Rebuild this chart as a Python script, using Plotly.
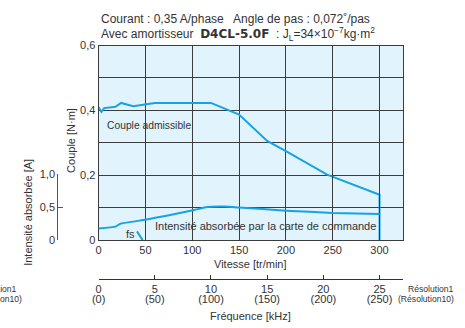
import plotly.graph_objects as go

# ---- data ----
speed_torque = [0, 3, 6, 18, 24, 37, 60, 120, 150, 180, 200, 244, 300, 300]
torque = [0.41, 0.395, 0.407, 0.411, 0.423, 0.413, 0.423, 0.423, 0.387, 0.306, 0.274, 0.202, 0.14, 0.0]

speed_current = [0, 18, 23, 50, 74, 102, 116, 134, 150, 200, 250, 300]
current = [0.174, 0.203, 0.246, 0.309, 0.372, 0.454, 0.50, 0.507, 0.493, 0.445, 0.41, 0.395]

fs_speed = [41, 47]
fs_torque = [0.027, 0.0]

speed_ticks = [0, 50, 100, 150, 200, 250, 300]
current_ticks = [0, 0.5, 1.0]
current_labels = ["0", "0,5", "1,0"]
freq_ticks = [0, 5, 10, 15, 20, 25]
freq_labels = ["0", "5", "10", "15", "20", "25"]
freq_labels_res10 = ["(0)", "(50)", "(100)", "(150)", "(200)", "(250)"]

W, H = 465, 328
FONT = "Liberation Sans, Arial, sans-serif"
TXT = "#333333"
BLUE = "#15a3e6"
GRID = "#3c3c3c"
FS = 11
RPM_PER_KHZ = 12  # 0.072 deg/step: 1 kHz -> 12 tr/min

def px(x):
    return x / W

def py(y):
    return 1 - y / H

fig = go.Figure()
fig.add_trace(go.Scatter(x=speed_torque, y=torque, mode="lines",
                         line=dict(color=BLUE, width=2), xaxis="x", yaxis="y",
                         showlegend=False, hoverinfo="skip"))
fig.add_trace(go.Scatter(x=speed_current, y=current, mode="lines",
                         line=dict(color=BLUE, width=2, shape="spline", smoothing=0.4),
                         xaxis="x", yaxis="y2", showlegend=False, hoverinfo="skip"))
fig.add_trace(go.Scatter(x=fs_speed, y=fs_torque, mode="lines",
                         line=dict(color=BLUE, width=2), xaxis="x", yaxis="y",
                         showlegend=False, hoverinfo="skip"))
# invisible anchors for the frequency axes
fig.add_trace(go.Scatter(x=[0], y=[0], mode="markers", marker=dict(opacity=0),
                         xaxis="x2", yaxis="y", showlegend=False, hoverinfo="skip"))
fig.add_trace(go.Scatter(x=[0], y=[0], mode="markers", marker=dict(opacity=0),
                         xaxis="x3", yaxis="y", showlegend=False, hoverinfo="skip"))

x_dom = [px(93), px(402)]
y_dom = [py(243), py(41)]
speed_range = [0, 325]
freq_range = [0, speed_range[1] / RPM_PER_KHZ]

fig.update_layout(
    width=W, height=H,
    margin=dict(l=0, r=0, t=0, b=0),
    paper_bgcolor="white",
    plot_bgcolor="rgba(0,0,0,0)",
    separators=", ",
    font=dict(family=FONT, size=FS, color=TXT),
    xaxis=dict(domain=x_dom, range=speed_range, anchor="y",
               tickvals=speed_ticks,
               showgrid=True, gridcolor=GRID, gridwidth=1,
               showline=True, linecolor=GRID, linewidth=1, mirror=True,
               ticks="", zeroline=False, fixedrange=True),
    yaxis=dict(domain=y_dom, range=[0, 0.6], anchor="x",
               dtick=0.2, tick0=0,
               minor=dict(dtick=0.1, showgrid=True, gridcolor=GRID, gridwidth=1),
               showgrid=True, gridcolor=GRID, gridwidth=1,
               showline=True, linecolor=GRID, linewidth=1, mirror=True,
               ticks="", zeroline=False, fixedrange=True),
    yaxis2=dict(domain=[py(243), py(174.3)], range=[0, 1.0], anchor="free",
                position=px(51), side="left",
                tickvals=current_ticks, ticktext=current_labels,
                showgrid=False, zeroline=False,
                showline=True, linecolor="#555555", linewidth=1,
                ticks="inside", ticklen=5, tickcolor="#555555",
                fixedrange=True),
    xaxis2=dict(domain=x_dom, range=freq_range, anchor="free", overlaying="x",
                position=py(283), side="bottom",
                tickvals=freq_ticks, ticktext=freq_labels,
                showgrid=False, zeroline=False,
                showline=True, linecolor="#333333", linewidth=1,
                ticks="inside", ticklen=4, tickcolor="#333333",
                fixedrange=True),
    xaxis3=dict(domain=x_dom, range=freq_range, anchor="free", overlaying="x",
                position=py(295.5), side="bottom",
                tickvals=freq_ticks, ticktext=freq_labels_res10,
                showgrid=False, zeroline=False, showline=False,
                ticks="", fixedrange=True),
)

fig.add_shape(type="rect", xref="x domain", yref="y domain", x0=0, x1=1, y0=0, y1=1,
              fillcolor="#e1f3fc", line=dict(width=0), layer="below")

ann = [
    dict(x=px(93), y=py(13.5), text="Courant : 0,35 A/phase   Angle de pas : 0,072˚/pas",
         xanchor="left", yanchor="middle", font=dict(size=12)),
    dict(x=px(93), y=py(29),
         text="Avec amortisseur  <b><span style='font-family:DejaVu Sans;font-size:12px'>D4CL-5.0F</span></b>  : J<sub>L</sub>=34×10<sup>−7</sup>kg·m<sup>2</sup>",
         xanchor="left", yanchor="middle", font=dict(size=12)),
    dict(x=px(99), y=py(124), text="Couple admissible", xanchor="left", yanchor="middle",
         font=dict(size=10.3)),
    dict(x=px(148), y=py(228.5), text="Intensité absorbée par la carte de commande",
         xanchor="left", yanchor="middle"),
    dict(x=px(125), y=py(236.5), text="fs", xanchor="center", yanchor="middle"),
    dict(x=px(65), y=py(140), text="Couple [N·m]", textangle=-90,
         xanchor="center", yanchor="middle"),
    dict(x=px(22), y=py(214), text="Intensité absorbée [A]", textangle=-90,
         xanchor="center", yanchor="middle"),
    dict(x=px(247.5), y=py(268), text="Vitesse [tr/min]", xanchor="center", yanchor="middle"),
    dict(x=px(247.5), y=py(321.5), text="Fréquence [kHz]", xanchor="center", yanchor="middle"),
    dict(x=px(456), y=py(293.5), text="Résolution1", xanchor="right", yanchor="middle",
         font=dict(size=8.6)),
    dict(x=px(456), y=py(304), text="(Résolution10)", xanchor="right", yanchor="middle",
         font=dict(size=8.6)),
    dict(x=px(12), y=py(293.5), text="Résolution1", xanchor="right", yanchor="middle",
         font=dict(size=8.6)),
    dict(x=px(17), y=py(304), text="(Résolution10)", xanchor="right", yanchor="middle",
         font=dict(size=8.6)),
]
for a in ann:
    a.update(xref="paper", yref="paper", showarrow=False)
    fig.add_annotation(**a)

fig.write_html("out.html", config={"displayModeBar": False},
               post_script="document.body.style.margin='0';document.body.style.overflow='hidden';")
